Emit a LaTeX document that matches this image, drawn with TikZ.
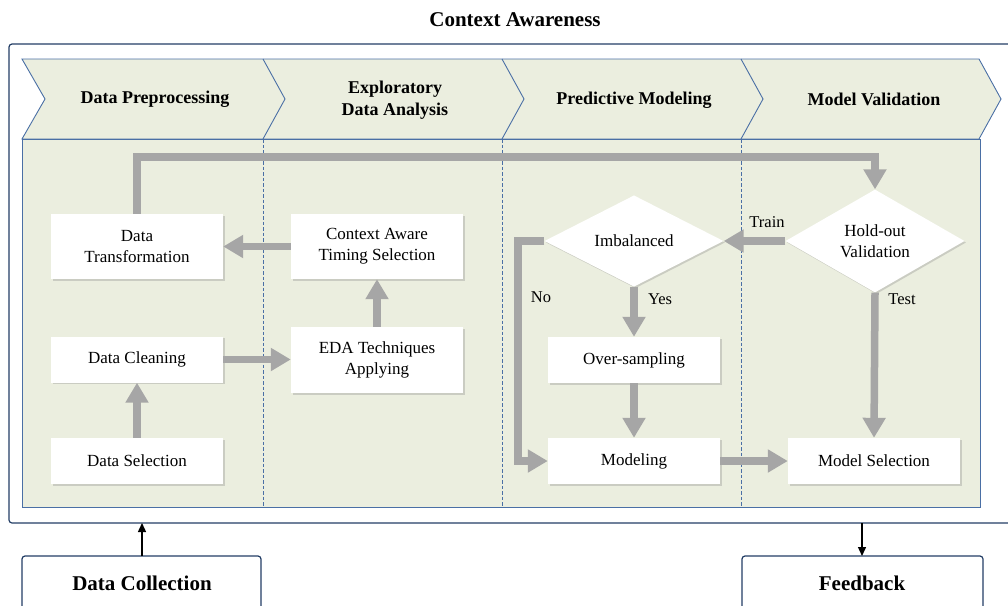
\documentclass[tikz,border=0pt]{standalone}
\usepackage{fontspec}
\setmainfont{Liberation Serif}
\usetikzlibrary{shapes.geometric,arrows.meta,shadows}
\definecolor{panel}{HTML}{EBEEDF}
\definecolor{laneblue}{HTML}{4A6FA5}
\definecolor{navy}{HTML}{233E66}
\definecolor{flowgray}{HTML}{A6A6A6}
\tikzset{
  stepbox/.style={fill=white, minimum width=172pt, minimum height=46pt, inner sep=2pt,
    align=center, font=\fontsize{17}{21}\selectfont,
    drop shadow={shadow xshift=1.5pt, shadow yshift=-1.5pt, opacity=0.3, fill=black!50}},
  tallbox/.style={stepbox, minimum height=65pt},
  decision/.style={diamond, fill=white, minimum width=179pt, minimum height=77pt, inner sep=0pt,
    align=center, font=\fontsize{17}{21}\selectfont,
    drop shadow={shadow xshift=1.5pt, shadow yshift=-1.5pt, opacity=0.3, fill=black!50}},
  flow/.style={draw=flowgray, line width=7.5pt, -{Triangle[width=22pt,length=20pt]}},
  lanehead/.style={font=\bfseries\fontsize{18}{22}\selectfont, align=center},
  flowlabel/.style={font=\fontsize{16.5}{18}\selectfont},
  outerbox/.style={draw=navy, line width=1.2pt, rounded corners=3pt},
  link/.style={draw=black, line width=1.4pt, -{Triangle[width=8pt,length=9pt]}}
}
\begin{document}
\begin{tikzpicture}[x=1pt,y=-1pt]
\useasboundingbox (0,0) rectangle (1008,605);
\clip (0,0) rectangle (1008,605);

% title
\node[font=\bfseries\fontsize{21}{24}\selectfont] (title) at (515,20) {Context Awareness};

% outer frame
\draw[outerbox] (9,44) rectangle (1030,523);

% chevron band
\draw[laneblue, line width=0.9pt, fill=panel]
  (22,59) -- (979,59) -- (1001,99) -- (979,139) -- (22,139) -- (45,99) -- cycle;
\foreach \x in {263,502,741}
  \draw[laneblue, line width=0.9pt] (\x,59) -- (\x+22,99) -- (\x,139);

% lower panel and lane separators
\draw[laneblue, line width=0.9pt, fill=panel] (22,139) rectangle (980,507);
\foreach \x in {263,502,741}
  \draw[laneblue, line width=0.9pt, dash pattern=on 3.5pt off 2pt] (\x,139) -- (\x,507);

% lane headers
\node[lanehead] (h1) at (155,99) {Data Preprocessing};
\node[lanehead] (h2) at (395,100) {Exploratory\\Data Analysis};
\node[lanehead] (h3) at (634,100) {Predictive Modeling};
\node[lanehead] (h4) at (874,99) {Model Validation};

% process steps
\node[tallbox] (dt) at (137,246.5) {Data\\Transformation};
\node[stepbox] (dcl) at (137,359.5) {Data Cleaning};
\node[stepbox] (dsel) at (137,461) {Data Selection};
\node[tallbox] (cat) at (377,246.5) {Context Aware\\Timing Selection};
\node[tallbox, minimum height=66pt] (eda) at (377,360) {EDA Techniques\\Applying};
\node[decision] (imb) at (634,241) {Imbalanced};
\node[decision] (ho) at (875,241) {Hold-out\\Validation};
\node[stepbox] (ovs) at (634,360) {Over-sampling};
\node[stepbox] (mod) at (634,461) {Modeling};
\node[stepbox] (msel) at (874,461) {Model Selection};

% flow connectors
\coordinate (loop) at (137,157);
\coordinate (nocorner) at (518,241);
\draw[flow] (dt.north) -- (loop) -| (ho.north);
\draw[flow] (cat.west) -- (dt.east);
\draw[flow] (eda.north) -- (cat.south);
\draw[flow] (dcl.east) -- (eda.west |- dcl.east);
\draw[flow] (dsel.north) -- (dcl.south);
\draw[flow] (ho.west) -- (imb.east);
\draw[flow] (imb.south) -- (ovs.north);
\draw[flow] (imb.west) -- (nocorner) |- (mod.west);
\draw[flow] (ovs.south) -- (mod.north);
\draw[flow] (mod.east) -- (msel.west);
\draw[flow] (ho.south) -- (msel.north);

% branch labels
\node[flowlabel] (ltrain) at (767,222) {Train};
\node[flowlabel] (lyes) at (660,299) {Yes};
\node[flowlabel] (lno) at (541,297) {No};
\node[flowlabel] (ltest) at (902,299) {Test};

% external boxes
\draw[outerbox] (22,556) rectangle (261,625);
\node[font=\bfseries\fontsize{21}{24}\selectfont] (dcoll) at (142,583) {Data Collection};
\draw[outerbox] (742,556) rectangle (983,625);
\node[font=\bfseries\fontsize{21}{24}\selectfont] (fb) at (862,583) {Feedback};
\coordinate (dcolltop) at (142,556);
\coordinate (frameL) at (142,523);
\coordinate (frameR) at (862,523);
\coordinate (fbtop) at (862,556);
\draw[link] (dcolltop) -- (frameL);
\draw[link] (frameR) -- (fbtop);
\end{tikzpicture}
\end{document}
